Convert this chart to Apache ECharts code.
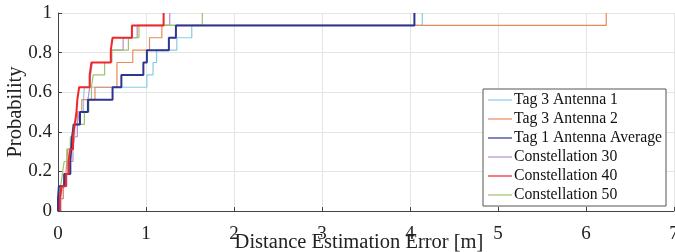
<!DOCTYPE html>
<html>
<head>
<meta charset="utf-8">
<script src="https://cdn.jsdelivr.net/npm/echarts@6/dist/echarts.min.js"></script>
<style>html,body{margin:0;padding:0;background:#fff}#c{width:675px;height:252px}</style>
</head>
<body>
<div id="c"></div>
<script>
// CDF probability levels (16 samples per series)
const probLevels = [0.0625, 0.125, 0.1875, 0.25, 0.3125, 0.375, 0.4375, 0.5, 0.5625, 0.625, 0.6875, 0.75, 0.8125, 0.875, 0.9375, 1];
const seriesNames = ["Tag 3 Antenna 1", "Tag 3 Antenna 2", "Tag 1 Antenna Average", "Constellation 30", "Constellation 40", "Constellation 50"];
// sorted distance errors [m] at which each series reaches each level
const tag3Ant1 = [0.03, 0.06, 0.08, 0.11, 0.13, 0.16, 0.19, 0.22, 0.29, 0.30, 1.01, 1.08, 1.12, 1.35, 1.52, 4.14];
const tag3Ant2 = [0.03, 0.06, 0.09, 0.10, 0.11, 0.15, 0.18, 0.22, 0.27, 0.42, 0.67, 0.67, 0.85, 1.04, 1.18, 6.23];
const tag1Avg  = [0.00, 0.01, 0.07, 0.14, 0.15, 0.16, 0.18, 0.25, 0.34, 0.62, 0.72, 0.97, 1.01, 1.26, 1.34, 4.05];
const const30  = [0.03, 0.05, 0.10, 0.13, 0.17, 0.19, 0.22, 0.24, 0.34, 0.36, 0.37, 0.39, 0.61, 0.74, 0.90, 1.27];
const const40  = [0.02, 0.04, 0.09, 0.12, 0.14, 0.17, 0.19, 0.21, 0.22, 0.24, 0.36, 0.38, 0.60, 0.62, 0.84, 1.20];
const const50  = [0.01, 0.03, 0.05, 0.07, 0.10, 0.14, 0.17, 0.30, 0.35, 0.38, 0.40, 0.53, 0.61, 0.80, 0.92, 1.64];
const xTicks = [0, 1, 2, 3, 4, 5, 6, 7];

const allX = [tag3Ant1, tag3Ant2, tag1Avg, const30, const40, const50];
const colors = ["#86cbe8", "#e8895e", "#2b3593", "#b58fcc", "#f0262a", "#9ec26d"];
const widths = [1.2, 1.2, 2, 1.2, 2, 1.2];

function cdfData(xs) {
  const d = [[xs[0], 0]];
  xs.forEach((x, i) => d.push([x, probLevels[i]]));
  return d;
}

const font = "Liberation Serif";
const chart = echarts.init(document.getElementById('c'), null, {renderer: 'canvas'});
chart.setOption({
  animation: false,
  backgroundColor: '#fff',
  grid: {left: 58, top: 13, right: 1, bottom: 41, containLabel: false, outerBoundsMode: 'none'},
  xAxis: {
    type: 'value', min: xTicks[0], max: xTicks[xTicks.length - 1], interval: 1,
    name: 'Distance Estimation Error [m]', nameLocation: 'middle', nameGap: 21,
    nameMoveOverlap: false,
    nameTextStyle: {fontFamily: font, fontSize: 20.5, color: '#222', padding: [0, 14, 0, 0]},
    axisLine: {show: true, lineStyle: {color: '#444', width: 1}},
    axisTick: {show: true, inside: true, length: 4, lineStyle: {color: '#444'}},
    axisLabel: {fontFamily: font, fontSize: 19, color: '#222', margin: 14},
    splitLine: {show: true, lineStyle: {color: '#e4e4e4', width: 1}}
  },
  yAxis: {
    type: 'value', min: 0, max: 1, interval: 0.2,
    name: 'Probability', nameLocation: 'middle', nameGap: 32,
    nameMoveOverlap: false,
    nameTextStyle: {fontFamily: font, fontSize: 20.5, color: '#222'},
    axisLine: {show: true, lineStyle: {color: '#444', width: 1}},
    axisTick: {show: true, inside: true, length: 4, lineStyle: {color: '#444'}},
    axisLabel: {fontFamily: font, fontSize: 19, color: '#222', margin: 6},
    splitLine: {show: true, lineStyle: {color: '#e4e4e4', width: 1}}
  },
  legend: {
    orient: 'vertical', left: 483, top: 89,
    padding: [3, 4, 3, 5], itemGap: 3, itemWidth: 24, itemHeight: 15,
    backgroundColor: '#fff', borderColor: '#555', borderWidth: 1,
    icon: 'path://M0,0L24,0L24,1.2L0,1.2Z',
    textStyle: {fontFamily: font, fontSize: 15.7, color: '#111', padding: [0, 0, 0, -3]},
    data: seriesNames
  },
  series: allX.map((xs, i) => ({
    name: seriesNames[i], type: 'line', step: 'end', symbol: 'none',
    data: cdfData(xs), color: colors[i],
    lineStyle: {width: widths[i], color: colors[i]},
    z: i === 2 || i === 4 ? 3 : 2
  }))
});
</script>
</body>
</html>
